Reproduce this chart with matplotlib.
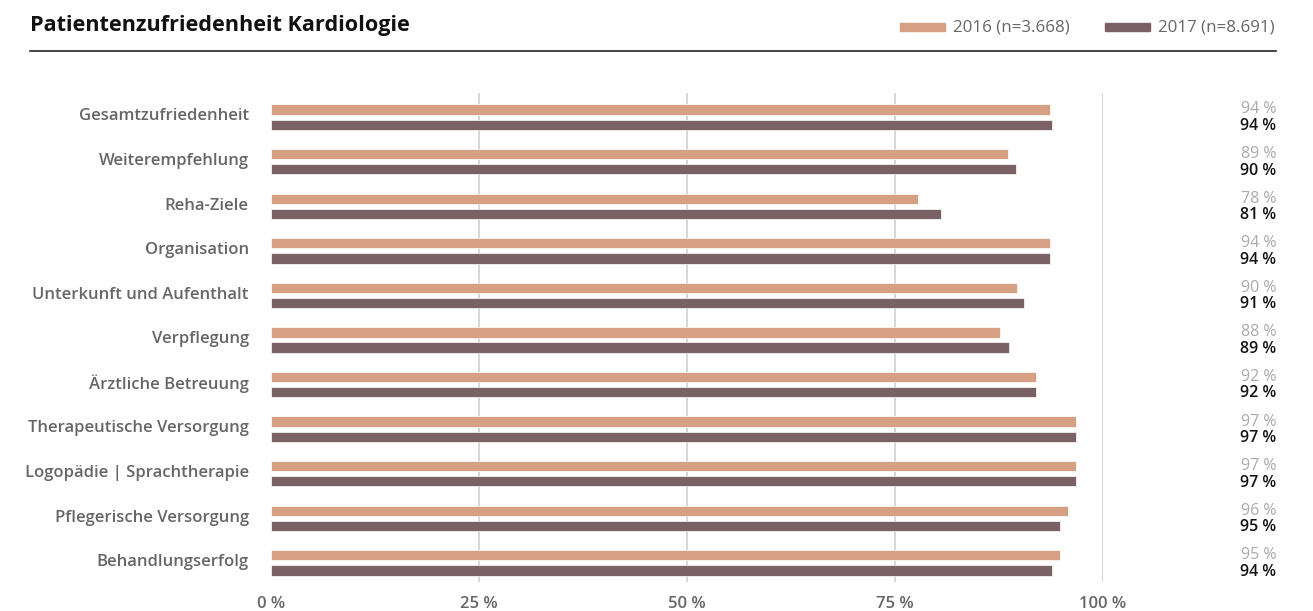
import matplotlib.pyplot as plt
from matplotlib.patches import Rectangle
from matplotlib.lines import Line2D

plt.rcParams['font.family'] = ['Open Sans', 'DejaVu Sans']

# daten
kategorien = ["Gesamtzufriedenheit", "Weiterempfehlung", "Reha-Ziele", "Organisation",
              "Unterkunft und Aufenthalt", "Verpflegung", "Ärztliche Betreuung",
              "Therapeutische Versorgung", "Logopädie | Sprachtherapie",
              "Pflegerische Versorgung", "Behandlungserfolg"]
werte_2016 = [93.6, 88.6, 77.8, 93.6, 89.7, 87.6, 91.9, 96.8, 96.8, 95.8, 94.8]
werte_2017 = [93.9, 89.5, 80.5, 93.6, 90.5, 88.7, 91.9, 96.8, 96.8, 94.8, 93.9]
labels_2016 = ["94 %", "89 %", "78 %", "94 %", "90 %", "88 %", "92 %", "97 %", "97 %", "96 %", "95 %"]
labels_2017 = ["94 %", "90 %", "81 %", "94 %", "91 %", "89 %", "92 %", "97 %", "97 %", "95 %", "94 %"]
x_ticks = [0, 25, 50, 75, 100]
x_ticklabels = ["0 %", "25 %", "50 %", "75 %", "100 %"]

farbe_2016 = "#d5a083"
farbe_2017 = "#7a6166"

W, H = 1313, 611
fig = plt.figure(figsize=(W / 100, H / 100), dpi=100)
ax = fig.add_axes([271 / W, 1 - 582 / H, (1103 - 271) / W, (582 - 93) / H])

y = list(range(len(kategorien)))
bh = 0.23
ax.barh([i - 0.17 for i in y], werte_2016, height=bh, color=farbe_2016, edgecolor="white", linewidth=0.5, zorder=3)
ax.barh([i + 0.17 for i in y], werte_2017, height=bh, color=farbe_2017, edgecolor="white", linewidth=0.5, zorder=3)

ax.set_xlim(0, 100)
ax.set_ylim(10.43, -0.54)
ax.set_yticks([i - 0.06 for i in y])
ax.set_yticklabels(kategorien, fontsize=12, color="#666666", fontweight="semibold")
ax.set_xticks(x_ticks)
ax.set_xticklabels(x_ticklabels, fontsize=12, color="#666666", fontweight="semibold")
ax.tick_params(length=0)
ax.tick_params(axis="y", pad=16)
ax.tick_params(axis="x", pad=10)
for t in x_ticks[1:]:
    ax.axvline(t, color="#d0d0d0", linewidth=1.2, zorder=1)
for s in ax.spines.values():
    s.set_visible(False)

# werte rechts
for i in y:
    ax.text(120.8, i - 0.17, labels_2016[i], ha="right", va="center", fontsize=11.5,
            color="#aaaaaa", clip_on=False)
    ax.text(120.8, i + 0.2, labels_2017[i], ha="right", va="center", fontsize=11.5,
            color="#111111", fontweight="semibold", clip_on=False)

# titel und linie
fig.text(30 / W, 1 - 25 / H, "Patientenzufriedenheit Kardiologie", fontsize=15.6,
         fontweight="bold", color="#111111", va="center", ha="left")
fig.add_artist(Line2D([30 / W, 1276 / W], [1 - 51 / H, 1 - 51 / H], color="#222222", linewidth=1.2))

# legende
for x0, farbe, txt in [(900, farbe_2016, "2016 (n=3.668)"), (1105, farbe_2017, "2017 (n=8.691)")]:
    fig.add_artist(Rectangle((x0 / W, 1 - 31 / H), 45 / W, 8 / H, color=farbe, transform=fig.transFigure))
    fig.text((x0 + 53) / W, 1 - 27 / H, txt, fontsize=12.2, color="#666666", va="center", ha="left")

fig.savefig("out.png", dpi=100)
